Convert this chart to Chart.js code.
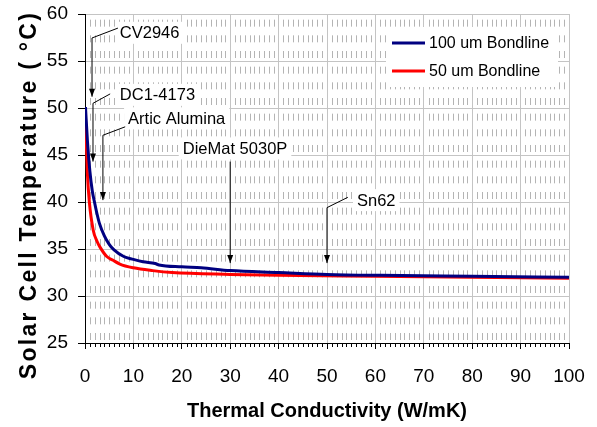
<!DOCTYPE html>
<html>
<head>
<meta charset="utf-8">
<script src="https://cdn.jsdelivr.net/npm/chart.js@4.4.0/dist/chart.umd.min.js"></script>
<style>
    html, body { margin: 0; padding: 0; background: #fff; }
    #wrap { width: 597px; height: 427px; }
</style>
</head>
<body>
<div id="wrap"><canvas id="chart"></canvas></div>
<script>
// values
const seriesLabels = ['100 um Bondline', '50 um Bondline'];
const conductivity100 = [0.1, 0.5, 1.0, 1.5, 2.0, 2.5, 3.0, 4.0, 5.0, 6.0, 8.0, 10, 12, 14.5, 15.3, 20, 24, 30, 40, 50, 61, 80, 100];
const temp100 = [50.1, 46.5, 43.3, 41.2, 39.9, 38.7, 37.7, 36.4, 35.5, 34.9, 34.2, 33.9, 33.65, 33.45, 33.3, 33.1, 33.0, 32.7, 32.5, 32.3, 32.2, 32.1, 32.0];
const conductivity50 = [0.1, 0.5, 0.9, 1.7, 2.5, 3.1, 4.5, 5.8, 7.2, 10, 14, 18, 30, 40, 60, 80, 100];
const temp50 = [49.0, 43.0, 40.0, 37.0, 35.8, 35.2, 34.2, 33.8, 33.4, 33.0, 32.7, 32.5, 32.3, 32.2, 32.1, 32.0, 31.9];
const xTickValues = [0, 10, 20, 30, 40, 50, 60, 70, 80, 90, 100];
const yTickValues = [25, 30, 35, 40, 45, 50, 55, 60];

// callouts: text anchor and leader path in data units
const callouts = [
    { text: 'CV2946', at: [7.2, 58.0], path: [[6.8, 58.5], [1.45, 57.45], [1.45, 51.2]] },
    { text: 'DC1-4173', at: [7.2, 51.4], path: [[5.2, 51.5], [1.65, 50.5], [1.65, 44.3]] },
    { text: 'Artic Alumina', at: [8.9, 48.9], path: [[8.3, 48.0], [3.7, 47.1], [3.7, 40.2]] },
    { text: 'DieMat 5030P', at: [20.2, 45.7], path: [[30, 44.3], [30, 33.5]] },
    { text: 'Sn62', at: [56.2, 40.2], path: [[54.3, 40.5], [50, 39.4], [50, 33.5]] }
];

const toPoints = (xs, ys) => xs.map((x, i) => ({ x: x, y: ys[i] }));

const minorGrid = {
    id: 'minorGrid',
    beforeDatasetsDraw(chart) {
        const { ctx, chartArea: a, scales: { x, y } } = chart;
        const period = (y.getPixelForValue(25) - y.getPixelForValue(30)) / 3;
        ctx.save();
        ctx.strokeStyle = '#b4b4b4';
        ctx.lineWidth = 1;
        ctx.setLineDash([7, period - 7]);
        ctx.lineDashOffset = period - 3;
        for (let i = 1; i < 100; i++) {
            if (i % 10 === 0) continue;
            const px = Math.round(x.getPixelForValue(i)) + 0.5;
            ctx.beginPath();
            ctx.moveTo(px, a.bottom);
            ctx.lineTo(px, a.top);
            ctx.stroke();
        }
        // minor ticks under the x axis
        ctx.setLineDash([]);
        ctx.strokeStyle = '#000';
        for (let i = 1; i < 100; i++) {
            if (i % 10 === 0) continue;
            const px = Math.round(x.getPixelForValue(i)) + 0.5;
            ctx.beginPath();
            ctx.moveTo(px, a.bottom);
            ctx.lineTo(px, a.bottom + 4);
            ctx.stroke();
        }
        ctx.restore();
    },
    afterDatasetsDraw(chart) {
        const { ctx, chartArea: a, scales: { x, y } } = chart;
        ctx.save();

        // callouts
        ctx.font = '16.5px "Liberation Sans", Arial, sans-serif';
        ctx.textBaseline = 'middle';
        ctx.textAlign = 'left';
        callouts.forEach(c => {
            const tx = x.getPixelForValue(c.at[0]);
            const ty = y.getPixelForValue(c.at[1]);
            const w = ctx.measureText(c.text).width;
            ctx.fillStyle = '#fff';
            ctx.fillRect(tx - 4, ty - 11, w + 8, 22);
            ctx.fillStyle = '#000';
            ctx.fillText(c.text, tx, ty + 1);

            ctx.strokeStyle = '#000';
            ctx.lineWidth = 1;
            ctx.beginPath();
            c.path.forEach((p, i) => {
                const px = x.getPixelForValue(p[0]);
                const py = y.getPixelForValue(p[1]);
                if (i === 0) ctx.moveTo(px, py); else ctx.lineTo(px, py);
            });
            ctx.stroke();
            const tip = c.path[c.path.length - 1];
            const hx = x.getPixelForValue(tip[0]);
            const hy = y.getPixelForValue(tip[1]);
            ctx.beginPath();
            ctx.moveTo(hx, hy);
            ctx.lineTo(hx - 3, hy - 8);
            ctx.lineTo(hx + 3, hy - 8);
            ctx.closePath();
            ctx.fill();
        });

        // legend
        const lx = a.right - 183, ly = a.top + 13;
        ctx.fillStyle = '#fff';
        ctx.fillRect(lx, ly, 172, 60);
        ctx.font = '16px "Liberation Sans", Arial, sans-serif';
        chart.data.datasets.forEach((ds, i) => {
            const rowY = ly + 16 + i * 28;
            ctx.strokeStyle = ds.borderColor;
            ctx.lineWidth = 3;
            ctx.beginPath();
            ctx.moveTo(lx + 6, rowY);
            ctx.lineTo(lx + 39, rowY);
            ctx.stroke();
            ctx.fillStyle = '#000';
            ctx.fillText(ds.label, lx + 43, rowY + 1);
        });

        // y axis title
        ctx.font = 'bold 23px "Liberation Sans", Arial, sans-serif';
        ctx.letterSpacing = '2.3px';
        ctx.textAlign = 'center';
        ctx.translate(30, 195);
        ctx.rotate(-Math.PI / 2);
        ctx.fillText('Solar Cell Temperature ( \u00B0C)', 0, 0);
        ctx.restore();
    }
};

new Chart(document.getElementById('chart'), {
    type: 'line',
    data: {
        datasets: [{
            label: seriesLabels[0],
            data: toPoints(conductivity100, temp100),
            borderColor: '#000080',
            borderWidth: 3,
            pointRadius: 0,
            cubicInterpolationMode: 'monotone'
        }, {
            label: seriesLabels[1],
            data: toPoints(conductivity50, temp50),
            borderColor: '#ff0000',
            borderWidth: 3,
            pointRadius: 0,
            cubicInterpolationMode: 'monotone'
        }]
    },
    options: {
        responsive: true,
        maintainAspectRatio: false,
        animation: false,
        layout: { padding: { top: 14, right: 28, left: 0, bottom: 0 } },
        plugins: {
            legend: { display: false },
            tooltip: { enabled: false }
        },
        scales: {
            x: {
                type: 'linear',
                min: 0,
                max: 100,
                afterBuildTicks: s => { s.ticks = xTickValues.map(v => ({ value: v })); },
                afterFit: s => { s.height = 84; s.paddingLeft = 0; s.paddingRight = 0; },
                grid: { color: '#c4c4c4', tickColor: '#000', tickLength: 6 },
                border: { color: '#000', width: 1 },
                ticks: {
                    color: '#000',
                    padding: 16,
                    maxRotation: 0,
                    font: { family: '"Liberation Sans", Arial, sans-serif', size: 19 }
                },
                title: {
                    display: true,
                    text: 'Thermal Conductivity (W/mK)',
                    color: '#000',
                    padding: { top: 0, bottom: 4 },
                    font: { family: '"Liberation Sans", Arial, sans-serif', size: 20, weight: 'bold' }
                }
            },
            y: {
                min: 25,
                max: 60,
                afterBuildTicks: s => { s.ticks = yTickValues.map(v => ({ value: v })); },
                afterFit: s => { s.width = 85; s.paddingTop = 0; s.paddingBottom = 0; },
                grid: { color: '#c4c4c4', tickColor: '#000', tickLength: 7 },
                border: { color: '#000', width: 1 },
                ticks: {
                    color: '#000',
                    padding: 10,
                    font: { family: '"Liberation Sans", Arial, sans-serif', size: 19 }
                }
            }
        }
    },
    plugins: [minorGrid]
});
</script>
</body>
</html>
